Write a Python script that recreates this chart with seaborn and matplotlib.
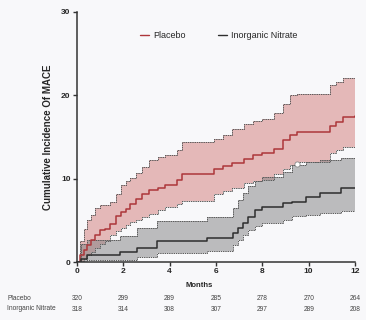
import numpy as np
import pandas as pd
import seaborn as sns
import matplotlib.pyplot as plt

# cumulative incidence (%)
placebo_t = [0, 0.15, 0.3, 0.45, 0.6, 0.8, 1.0, 1.2, 1.45, 1.7, 1.9, 2.1, 2.3, 2.55, 2.8, 3.1, 3.5, 3.8,
             4.3, 4.55, 5.9, 6.3, 6.7, 7.2, 7.6, 8.0, 8.5, 8.9, 9.2, 9.5, 10.9, 11.2, 11.5, 12]
placebo_mean = [0, 0.8, 1.4, 2.0, 2.6, 3.2, 3.8, 4.0, 4.6, 5.5, 6.0, 6.4, 7.0, 7.6, 8.2, 8.7, 8.9, 9.3,
                9.8, 10.6, 11.1, 11.5, 11.9, 12.4, 12.8, 13.1, 13.6, 14.6, 15.2, 15.6, 16.3, 16.8, 17.4, 17.5]
placebo_hi = [0, 2.5, 4.0, 5.0, 5.7, 6.5, 6.9, 6.9, 7.2, 8.2, 9.2, 9.7, 10.1, 10.7, 11.4, 12.2, 12.6, 12.8,
              13.4, 14.4, 14.8, 15.2, 16.0, 16.6, 16.9, 17.2, 17.9, 19.0, 20.0, 20.2, 21.2, 21.6, 22.1, 22.1]
placebo_lo = [0, 0.1, 0.4, 0.8, 1.2, 1.7, 2.2, 2.5, 3.2, 3.7, 4.1, 4.4, 4.8, 5.1, 5.4, 5.8, 6.3, 6.6,
              7.0, 7.3, 8.2, 8.5, 8.9, 9.5, 9.7, 9.9, 10.5, 11.1, 11.6, 12.0, 13.1, 13.4, 13.8, 13.8]

nitrate_t = [0, 0.2, 0.45, 1.85, 2.6, 3.45, 5.6, 6.75, 6.95, 7.15, 7.4, 7.7, 8.0, 8.9, 9.3, 9.9, 10.5, 11.4, 12]
nitrate_mean = [0, 0.4, 0.8, 1.2, 1.7, 2.5, 2.9, 3.5, 4.1, 4.7, 5.4, 6.2, 6.6, 7.1, 7.2, 7.8, 8.3, 8.9, 8.9]
nitrate_hi = [0, 2.2, 2.7, 3.1, 4.1, 4.9, 5.4, 6.5, 7.5, 8.3, 9.1, 9.7, 10.2, 10.8, 11.6, 12.0, 12.2, 12.5, 12.5]
nitrate_lo = [0, 0.05, 0.2, 0.3, 0.6, 1.1, 1.3, 2.0, 2.7, 3.3, 3.8, 4.3, 4.7, 5.1, 5.5, 5.7, 5.9, 6.1, 6.2]

censor_x = [9.5]
censor_y = [11.7]

risk_months = [0, 2, 4, 6, 8, 10, 12]
risk_placebo = [320, 299, 289, 285, 278, 270, 264]
risk_nitrate = [318, 314, 308, 307, 297, 289, 208]

sns.set_style("ticks")
plt.rcParams['font.family'] = ['Liberation Sans', 'DejaVu Sans']

bg = '#f8f8fa'
fig = plt.figure(figsize=(3.66, 3.2), dpi=100, facecolor=bg)
ax = fig.add_axes([0.21, 0.181, 0.76, 0.782])
ax.set_facecolor(bg)

df = pd.concat([
    pd.DataFrame({'Months': placebo_t, 'inc': placebo_mean, 'group': 'Placebo'}),
    pd.DataFrame({'Months': nitrate_t, 'inc': nitrate_mean, 'group': 'Inorganic Nitrate'}),
])

red_fill, red_line = '#c85a55', '#ad363a'
gray_fill, gray_line = '#7f7f82', '#2e2e2e'
band_edge = '#5a5a5a'

ax.fill_between(placebo_t, placebo_lo, placebo_hi, step='post', color=red_fill, alpha=0.4, lw=0)
ax.fill_between(nitrate_t, nitrate_lo, nitrate_hi, step='post', color=gray_fill, alpha=0.5, lw=0)
for t, v in [(placebo_t, placebo_hi), (placebo_t, placebo_lo), (nitrate_t, nitrate_hi), (nitrate_t, nitrate_lo)]:
    ax.plot(t, v, drawstyle='steps-post', color=band_edge, lw=0.7, ls=(0, (1.5, 0.8)))

sns.lineplot(data=df, x='Months', y='inc', hue='group', palette={'Placebo': red_line, 'Inorganic Nitrate': gray_line},
             drawstyle='steps-post', lw=1.1, estimator=None, ax=ax)
ax.scatter(censor_x, censor_y, s=14, facecolor='white', edgecolor='#888888', lw=0.6, zorder=5)

ax.set_xlim(0, 12)
ax.set_ylim(0, 30)
ax.set_xticks(risk_months)
ax.set_yticks([0, 10, 20, 30])
ax.tick_params(length=3, width=1, labelsize=6, pad=1.5, color='#333333')
for lab in ax.get_xticklabels() + ax.get_yticklabels():
    lab.set_fontweight('bold')
ax.set_xlabel('Months', fontsize=5.5, fontweight='bold', labelpad=5, x=0.44)
ax.set_ylabel('Cumulative Incidence Of MACE', fontsize=7, fontweight='bold', labelpad=6)
for s in ['left', 'bottom']:
    ax.spines[s].set_linewidth(1.1)
    ax.spines[s].set_color('#333333')
sns.despine(ax=ax)

leg = ax.legend(loc='center', bbox_to_anchor=(0.51, 0.905), ncol=2, frameon=False, fontsize=6.5,
                handlelength=1.0, columnspacing=3.5, handletextpad=0.5)
for h in leg.get_lines():
    h.set_linewidth(1.0)

tr = ax.get_xaxis_transform()
for m, a, b in zip(risk_months, risk_placebo, risk_nitrate):
    ax.text(m, -0.145, str(a), transform=tr, ha='center', va='center', fontsize=4.8, color='#444444')
    ax.text(m, -0.19, str(b), transform=tr, ha='center', va='center', fontsize=4.8, color='#444444')
fig.text(0.02, 1 - 298 / 320, 'Placebo', ha='left', va='center', fontsize=4.8, color='#444444')
fig.text(0.02, 1 - 309 / 320, 'Inorganic Nitrate', ha='left', va='center', fontsize=4.8, color='#444444')

fig.savefig('out.png', dpi=100, facecolor=bg)
